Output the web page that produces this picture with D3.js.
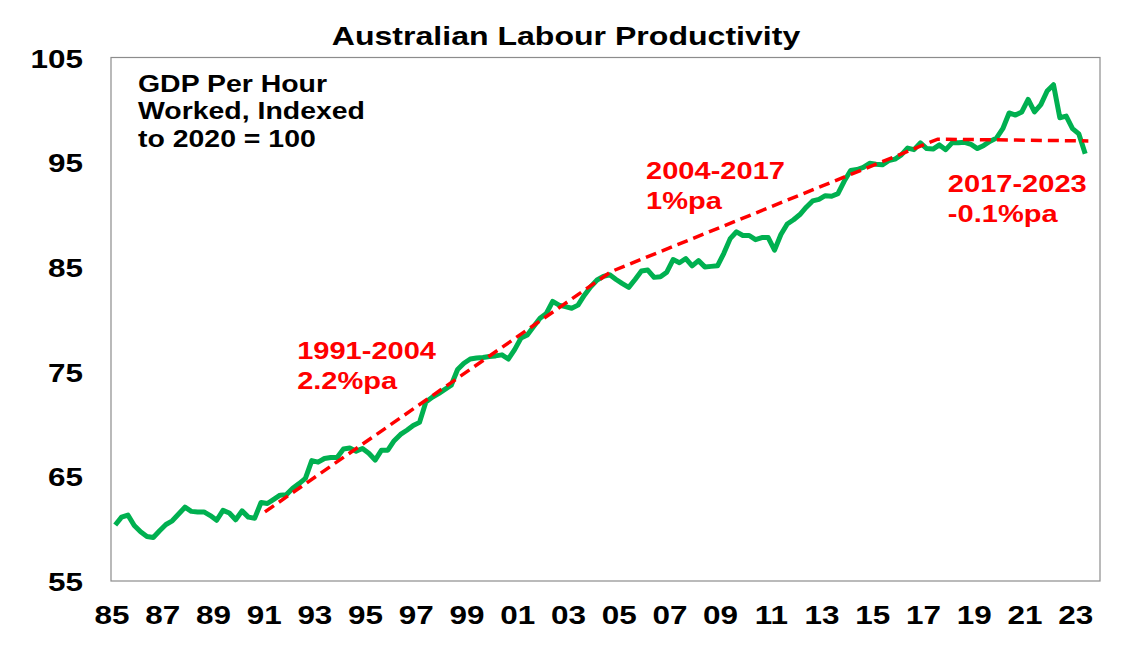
<!DOCTYPE html>
<html lang="en">
<head>
    <meta charset="UTF-8">
    <title>Australian Labour Productivity</title>
    <script src="https://d3js.org/d3.v7.min.js"></script>
    <style>
        body {
            margin: 0;
            background: #fff;
        }
        svg {
            display: block;
            font-family: "Liberation Sans", Arial, sans-serif;
            font-weight: bold;
        }
    </style>
</head>
<body>
    <svg id="chart" width="1132" height="652"></svg>

    <script>
        // Quarterly GDP per hour worked, index 2020 = 100, Mar 1985 .. Jun 2023
        const startYear = 1985;
        const productivity = [
            60.35, 61.1, 61.3, 60.3, 59.7, 59.25, 59.15, 59.8, 60.4, 60.75,
            61.4, 62.05, 61.65, 61.6, 61.6, 61.25, 60.8, 61.75, 61.5, 60.85,
            61.7, 61.1, 61.0, 62.5, 62.4, 62.8, 63.2, 63.25, 63.85, 64.3,
            64.8, 66.5, 66.35, 66.7, 66.8, 66.8, 67.6, 67.7, 67.4, 67.65,
            67.2, 66.55, 67.5, 67.5, 68.4, 69.0, 69.4, 69.85, 70.15, 72.1,
            72.55, 72.9, 73.3, 73.7, 75.2, 75.8, 76.2, 76.3, 76.35, 76.45,
            76.5, 76.6, 76.2, 77.1, 78.2, 78.5, 79.3, 80.1, 80.55, 81.7,
            81.35, 81.2, 81.05, 81.35, 82.3, 83.1, 83.75, 84.1, 84.25, 83.8,
            83.4, 83.05, 83.8, 84.6, 84.7, 84.0, 84.05, 84.5, 85.7, 85.4,
            85.8, 85.1, 85.6, 85.0, 85.05, 85.1, 86.3, 87.7, 88.35, 88.0,
            88.0, 87.6, 87.8, 87.8, 86.6, 88.1, 89.1, 89.5, 90.0, 90.7,
            91.3, 91.45, 91.8, 91.75, 92.0, 93.2, 94.2, 94.3, 94.5, 94.9,
            94.8, 94.75, 95.15, 95.3, 95.7, 96.35, 96.2, 96.85, 96.3, 96.25,
            96.65, 96.2, 96.85, 96.85, 96.9, 96.7, 96.3, 96.6, 97.0, 97.3,
            98.2, 99.7, 99.5, 99.8, 101.0, 99.8, 100.5, 101.8, 102.4, 99.25,
            99.4, 98.2, 97.7, 95.8
        ];

        // Trend segments (dashed red)
        const trendYears = [1991.07, 2004.72, 2017.6, 2023.54];
        const trendValues = [61.6, 84.55, 97.2, 97.03];

        const yTicks = [55, 65, 75, 85, 95, 105];
        const xTickYears = d3.range(1985, 2024, 2);
        const xTickLabels = xTickYears.map(y => String(y % 100).padStart(2, "0"));

        const trendLabels = [
            { lines: ["1991-2004", "2.2%pa"], year: 1992.34, value: 76.2 },
            { lines: ["2004-2017", "1%pa"], year: 2006.1, value: 93.4 },
            { lines: ["2017-2023", "-0.1%pa"], year: 2018.0, value: 92.15 }
        ];

        // Layout
        const plot = { left: 111, top: 57.5, right: 1100, bottom: 581 };
        const stretch = 1.21; // the reference text is wide, stretch it horizontally

        const svg = d3.select("#chart");

        const x = d3.scaleLinear().domain([1985, 2024]).range([plot.left, plot.right]);
        const y = d3.scaleLinear().domain([55, 105]).range([plot.bottom, plot.top]);

        const series = productivity.map((v, i) => ({
            t: startYear + 2 / 12 + i * 0.25,
            v: v
        }));
        const trend = trendYears.map((t, i) => ({ t: t, v: trendValues[i] }));

        // Plot frame
        svg.append("rect")
            .attr("x", plot.left)
            .attr("y", plot.top)
            .attr("width", plot.right - plot.left)
            .attr("height", plot.bottom - plot.top)
            .attr("fill", "none")
            .attr("stroke", "#8c8c8c")
            .attr("stroke-width", 1.2);

        // Y axis labels
        const yAxis = d3.axisLeft(y).tickValues(yTicks).tickSize(0).tickPadding(0);
        const gy = svg.append("g")
            .attr("transform", `translate(83,0)`)
            .call(yAxis);
        gy.select(".domain").remove();
        gy.selectAll("text")
            .attr("x", null)
            .attr("dy", null)
            .attr("transform", d => `translate(0,9.5) scale(${stretch},1)`)
            .attr("font-size", 26)
            .attr("font-family", "Liberation Sans, Arial, sans-serif")
            .attr("font-weight", "bold")
            .attr("fill", "#000");

        // X axis labels
        const xAxis = d3.axisBottom(x)
            .tickValues(xTickYears)
            .tickFormat((d, i) => xTickLabels[i])
            .tickSize(0)
            .tickPadding(0);
        const gx = svg.append("g")
            .attr("transform", `translate(0,624)`)
            .call(xAxis);
        gx.select(".domain").remove();
        gx.selectAll("text")
            .attr("y", null)
            .attr("dy", null)
            .attr("transform", `scale(${stretch},1)`)
            .attr("font-size", 26)
            .attr("font-family", "Liberation Sans, Arial, sans-serif")
            .attr("font-weight", "bold")
            .attr("fill", "#000");
        gx.selectAll(".tick").attr("transform", d => `translate(${x(d) + 1},0)`);

        // Lines
        const line = d3.line().x(d => x(d.t)).y(d => y(d.v));

        svg.append("path")
            .datum(series)
            .attr("d", line)
            .attr("fill", "none")
            .attr("stroke", "#00b050")
            .attr("stroke-width", 5)
            .attr("stroke-linejoin", "round");

        svg.append("path")
            .datum(trend)
            .attr("d", line)
            .attr("fill", "none")
            .attr("stroke", "#ff0000")
            .attr("stroke-width", 3.5)
            .attr("stroke-dasharray", "11,6");

        // Title
        svg.append("text")
            .attr("transform", `translate(566,45) scale(${stretch},1)`)
            .attr("text-anchor", "middle")
            .attr("font-size", 26.5)
            .attr("fill", "#000")
            .text("Australian Labour Productivity");

        // Units note
        const note = ["GDP Per Hour", "Worked, Indexed", "to 2020 = 100"];
        svg.append("g")
            .selectAll("text")
            .data(note)
            .join("text")
            .attr("transform", (d, i) => `translate(138,${92 + i * 27.3}) scale(${stretch},1)`)
            .attr("font-size", 23.5)
            .attr("fill", "#000")
            .text(d => d);

        // Trend labels
        trendLabels.forEach(lab => {
            svg.append("g")
                .selectAll("text")
                .data(lab.lines)
                .join("text")
                .attr("transform", (d, i) =>
                    `translate(${x(lab.year)},${y(lab.value) + i * 30}) scale(${stretch * 0.98},1)`)
                .attr("font-size", 24.5)
                .attr("fill", "#ff0000")
                .text(d => d);
        });
    </script>
</body>
</html>
